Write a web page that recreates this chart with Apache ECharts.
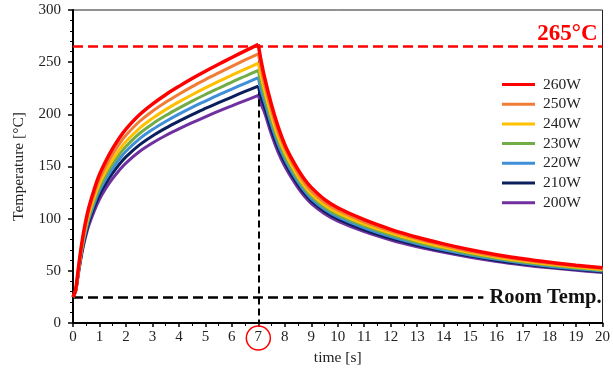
<!DOCTYPE html>
<html>
<head>
<meta charset="utf-8">
<script src="https://cdn.jsdelivr.net/npm/echarts@6/dist/echarts.min.js"></script>
<style>
html,body{margin:0;padding:0;background:#fff;}
#chart{width:613px;height:376px;}
</style>
</head>
<body>
<div id="chart"></div>
<script>
// time [s]: heating 0..7 s, cooling 7..20 s (index 22 = t 7 s, shared)
const times = [0, 0.1, 0.2, 0.3, 0.4, 0.5, 0.6, 0.8, 1.0, 1.25, 1.5, 1.75, 2.0, 2.5, 3.0, 3.5, 4.0, 4.5, 5.0, 5.5, 6.0, 6.5, 7.0,
  7.1, 7.25, 7.5, 7.75, 8, 8.25, 8.5, 8.75, 9, 9.5, 10, 11, 12, 13, 14, 15, 16, 17, 18, 19, 20];
const peakIndex = 22;

const seriesNames = ['260W', '250W', '240W', '230W', '220W', '210W', '200W'];
const seriesColors = ['#ff0000', '#f07c35', '#ffc000', '#70ad47', '#3f8fd8', '#0b1f5c', '#7030a0'];

const t260 = [25,32,52,71,87,100,111,128,142.3,155.8,167.3,177.3,185.8,199.3,209.8,218.8,226.8,234.3,241.3,248,254.5,260.8,267,
  252,234,209,188,171,158,147,137.5,130,118.5,110.5,99,89.8,82.2,75.8,70.2,65.5,61.5,58.2,55.4,53];
const t250 = [25,31.7,51,69.3,84.7,97.2,107.8,124.2,138,151,162,171.7,179.9,192.9,203,211.6,219.3,226.6,233.3,239.7,246,252.1,258,
  245.2,227.7,203.5,183.1,167.5,154.9,143.8,134.3,126.6,115.7,108.1,97,88.1,80.6,74.3,68.8,64.3,60.4,57.2,54.5,52.2];
const t240 = [25,31.5,50,67.6,82.4,94.5,104.6,120.4,133.6,146.1,156.8,166,173.9,186.4,196.1,204.5,211.9,218.8,225.3,231.5,237.5,243.3,249.1,
  237.2,221.5,198.2,178.6,163.6,151.3,140.5,131.2,123.8,113,105.6,94.8,86.1,78.9,72.8,67.5,63.1,59.3,56.2,53.6,51.3];
const t230 = [25,31.3,49.2,66.3,80.6,92.3,102.1,117.4,130.2,142.3,152.6,161.6,169.2,181.4,190.8,198.8,206,212.7,219,225,230.9,236.5,242.1,
  230.4,216.2,193.8,175,160.3,148.4,137.9,128.9,121.5,111,103.6,93.1,84.5,77.4,71.5,66.4,62.1,58.4,55.4,52.8,50.6];
const t220 = [25,31.1,48.4,64.9,78.8,90.1,99.6,114.4,126.8,138.5,148.5,157.2,164.6,176.3,185.4,193.2,200.2,206.7,212.7,218.6,224.2,229.7,235.1,
  223.6,211,189.5,171.4,157.1,145.5,135.3,126.4,119.3,109.1,101.8,91.3,82.9,76,70.2,65.2,61,57.5,54.5,52.1,49.9];
const t210 = [25,30.8,47.5,63.4,76.8,87.6,96.8,111,122.9,134.2,143.8,152.2,159.3,170.5,179.3,186.8,193.5,199.8,205.6,211.2,216.6,221.9,227.1,
  216.8,205.8,185,167.7,153.9,142.6,132.7,124,117.1,107.2,99.8,89.4,81.2,74.6,68.9,64.1,60,56.6,53.7,51.3,49.2];
const t200 = [25,30.6,46.5,61.7,74.5,84.9,93.6,107.2,118.6,129.4,138.6,146.5,153.3,164.1,172.5,179.7,186,192,197.6,203,208.1,213.2,218.1,
  210,200.6,180.4,163.6,150.2,139.2,129.6,121.2,114.5,104.8,97.7,87.6,79.6,73.1,67.7,63,59,55.7,52.9,50.5,48.5];

const seriesValues = [t260, t250, t240, t230, t220, t210, t200];

const maxTemp = 265;     // red dashed line
const roomTemp = 25;     // black dashed line
const heatEnd = 7;       // end of heating
const heatPeak = 267;
const roomLineEnd = 15.5;

const xTicks = [0, 20, 1];
const yTicks = [0, 300, 50];

const FONT = 'Liberation Serif';

const chart = echarts.init(document.getElementById('chart'), null, {renderer: 'canvas'});

const series = [];
seriesNames.forEach((name, k) => {
  const pts = seriesValues[k].map((v, i) => [times[i], v]);
  const parts = [pts.slice(0, peakIndex + 1), pts.slice(peakIndex)];
  parts.forEach(part => {
    series.push({
      name: name,
      type: 'line',
      data: part,
      showSymbol: false,
      smooth: 0.35,
      lineStyle: {width: k === 0 ? 3.5 : 3, color: seriesColors[k]},
      itemStyle: {color: seriesColors[k]},
      z: 10 - k,
      animation: false
    });
  });
});

series.push({
  name: 'refs',
  type: 'line',
  data: [],
  z: 20,
  markLine: {
    silent: true,
    symbol: ['none', 'none'],
    label: {show: false},
    animation: false,
    data: [
      [{coord: [xTicks[0], maxTemp], lineStyle: {color: '#ff0000', width: 2.5, type: [10, 5]}},
       {coord: [xTicks[1], maxTemp]}],
      [{coord: [xTicks[0], roomTemp], lineStyle: {color: '#000', width: 2.5, type: [10, 5]}},
       {coord: [roomLineEnd, roomTemp]}],
      [{coord: [heatEnd, heatPeak], lineStyle: {color: '#000', width: 2, type: [7, 4]}},
       {coord: [heatEnd, 0]}]
    ]
  }
});

chart.setOption({
  animation: false,
  backgroundColor: '#fff',
  grid: {left: 73, right: 8, top: 10, bottom: 53, show: true, borderColor: '#222', borderWidth: 1, backgroundColor: 'transparent'},
  legend: {
    orient: 'vertical',
    left: 497,
    top: 71,
    itemWidth: 33,
    itemHeight: 3,
    itemGap: 2.7,
    icon: 'rect',
    data: seriesNames,
    textStyle: {fontFamily: FONT, fontSize: 15.5, color: '#222', lineHeight: 17, padding: [0, 0, 0, 3]}
  },
  xAxis: {
    type: 'value',
    min: xTicks[0], max: xTicks[1], interval: xTicks[2],
    name: 'time [s]',
    nameLocation: 'middle',
    nameGap: 26,
    nameTextStyle: {fontFamily: FONT, fontSize: 15.5, color: '#222'},
    axisLine: {lineStyle: {color: '#000', width: 2}},
    axisTick: {show: true, inside: false, length: 4, lineStyle: {color: '#000', width: 1.5}},
    minorTick: {show: true, splitNumber: 2, length: 3, lineStyle: {color: '#000', width: 1}},
    axisLabel: {fontFamily: FONT, fontSize: 15, color: '#222', margin: 7},
    splitLine: {show: false}
  },
  yAxis: {
    type: 'value',
    min: yTicks[0], max: yTicks[1], interval: yTicks[2],
    name: 'Temperature [°C]',
    nameLocation: 'middle',
    nameGap: 46,
    nameTextStyle: {fontFamily: FONT, fontSize: 15.5, color: '#222'},
    axisLine: {show: true, lineStyle: {color: '#000', width: 2}},
    axisTick: {show: true, inside: false, length: 5, lineStyle: {color: '#000', width: 1.5}},
    minorTick: {show: true, splitNumber: 5, length: 3, lineStyle: {color: '#000', width: 1}},
    axisLabel: {fontFamily: FONT, fontSize: 15, color: '#222', margin: 12},
    splitLine: {show: false}
  },
  series: series
});

const pPeak = chart.convertToPixel({gridIndex: 0}, [xTicks[1], maxTemp]);
const pRoom = chart.convertToPixel({gridIndex: 0}, [xTicks[1], roomTemp]);
const p7 = chart.convertToPixel({gridIndex: 0}, [heatEnd, 0]);

chart.setOption({
  graphic: [
    {type: 'text', x: pPeak[0] - 5, y: pPeak[1] - 12, z: 100,
      style: {text: '265°C', fill: '#ff0000', font: 'bold 23px "Liberation Serif"', textAlign: 'right', textVerticalAlign: 'middle'}},
    {type: 'text', x: pRoom[0] - 1, y: pRoom[1] + 1, z: 100,
      style: {text: 'Room Temp.', fill: '#111', font: 'bold 20.5px "Liberation Serif"', textAlign: 'right', textVerticalAlign: 'middle'}},
    {type: 'circle', shape: {cx: p7[0], cy: p7[1] + 15, r: 12}, z: 100,
      style: {fill: 'none', stroke: '#ff0000', lineWidth: 1.5}}
  ]
});
</script>
</body>
</html>
